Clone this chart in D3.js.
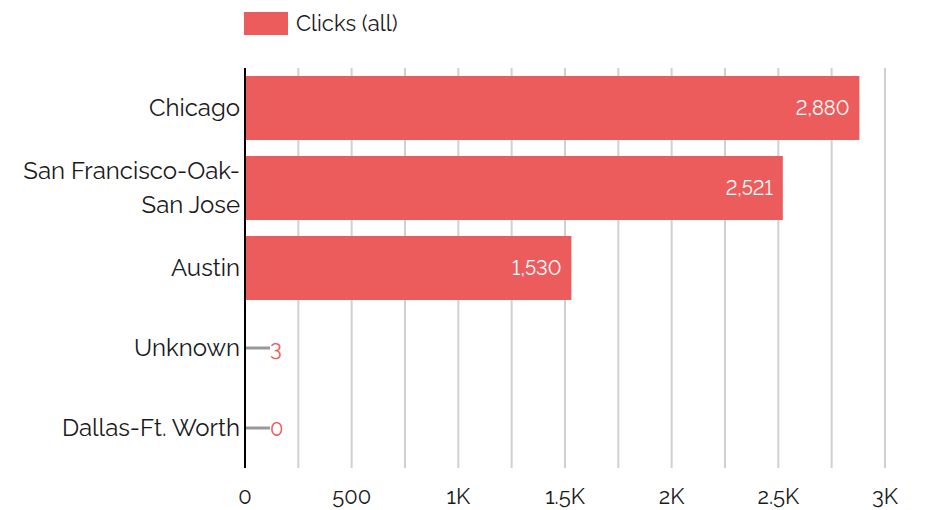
<!DOCTYPE html>
<html><head><meta charset="utf-8">
<script src="https://cdn.jsdelivr.net/npm/d3@7"></script>
<style>body{margin:0;background:#fff;font-family:Raleway,"Open Sans",sans-serif;}</style>
</head><body>
<svg id="chart" width="929" height="510"></svg>
<script>
const categories = ["Chicago", "San Francisco-Oak-San Jose", "Austin", "Unknown", "Dallas-Ft. Worth"];
const clicks = [2880, 2521, 1530, 3, 0];
const valueLabels = ["2,880", "2,521", "1,530", "3", "0"];
const tickValues = [0, 500, 1000, 1500, 2000, 2500, 3000];
const tickLabels = ["0", "500", "1K", "1.5K", "2K", "2.5K", "3K"];
const gridValues = d3.range(250, 3001, 250);
const seriesName = "Clicks (all)";

const color = "#ed5c5c";
const svg = d3.select("#chart");
const font = 'Raleway, "Open Sans", sans-serif';
const margin = {left: 245, right: 44, top: 68, bottom: 42};
const W = 929, H = 510;

const x = d3.scaleLinear().domain([0, 3000]).range([margin.left, W - margin.right]);
const y = d3.scaleBand().domain(categories).range([margin.top, H - margin.bottom]).paddingInner(0.2).paddingOuter(0.1);

// grid
svg.append("g").selectAll("line").data(gridValues).join("line")
  .attr("x1", d => x(d)).attr("x2", d => x(d))
  .attr("y1", margin.top).attr("y2", H - margin.bottom)
  .attr("stroke", "#d0d0d0").attr("stroke-width", 2);

// bars
const data = categories.map((c, i) => ({c, v: clicks[i], label: valueLabels[i]}));
const minW = 25;
const g = svg.append("g");
data.forEach(d => {
  const w = x(d.v) - x(0);
  const cy = y(d.c) + y.bandwidth() / 2;
  if (w >= minW) {
    g.append("rect").attr("x", x(0)).attr("y", y(d.c)).attr("width", w).attr("height", y.bandwidth()).attr("fill", color);
    g.append("text").attr("x", x(d.v) - 10).attr("y", cy).attr("dy", "0.35em")
      .attr("text-anchor", "end").attr("fill", "#fff").attr("font-family", font).attr("font-size", 20)
      .style("font-variant-numeric", "lining-nums").text(d.label);
  } else {
    g.append("line").attr("x1", x(0)).attr("x2", x(0) + minW).attr("y1", cy).attr("y2", cy)
      .attr("stroke", "#999").attr("stroke-width", 3);
    g.append("text").attr("x", x(0) + minW).attr("y", cy).attr("dy", "0.35em")
      .attr("fill", color).attr("font-family", font).attr("font-size", 22).text(d.label);
  }
});

// y axis line
svg.append("line").attr("x1", x(0)).attr("x2", x(0)).attr("y1", margin.top).attr("y2", H - margin.bottom)
  .attr("stroke", "#000").attr("stroke-width", 2);

// category labels with wrapping at hyphens
const maxLabelW = 236;
const yl = svg.append("g");
categories.forEach(c => {
  const t = yl.append("text").attr("text-anchor", "end").attr("font-family", font).attr("font-size", 24).attr("fill", "#1a1a1a");
  const parts = c.match(/[^-]+-?/g);
  let lines = [], cur = "";
  parts.forEach(p => {
    const test = cur + p;
    const tmp = t.append("tspan").text(test);
    const wd = tmp.node().getComputedTextLength();
    tmp.remove();
    if (wd > maxLabelW && cur) { lines.push(cur); cur = p; } else cur = test;
  });
  lines.push(cur);
  const lh = 34;
  const cy = y(c) + y.bandwidth() / 2 - (lines.length - 1) * lh / 2;
  lines.forEach((l, i) => t.append("tspan").attr("x", x(0) - 5).attr("y", cy + i * lh).attr("dy", "0.35em").text(l));
});

// x tick labels
svg.append("g").selectAll("text").data(tickValues).join("text")
  .attr("x", d => x(d)).attr("y", 496).attr("dy", "0.35em").attr("text-anchor", "middle")
  .attr("font-family", font).attr("font-size", 22).attr("fill", "#1a1a1a")
  .text((d, i) => tickLabels[i]);

// legend
svg.append("rect").attr("x", 244).attr("y", 12).attr("width", 44).attr("height", 23).attr("fill", color);
svg.append("text").attr("x", 296).attr("y", 23.5).attr("dy", "0.35em").attr("font-family", font).attr("font-size", 22).attr("fill", "#1a1a1a").text(seriesName);
</script>
</body></html>
